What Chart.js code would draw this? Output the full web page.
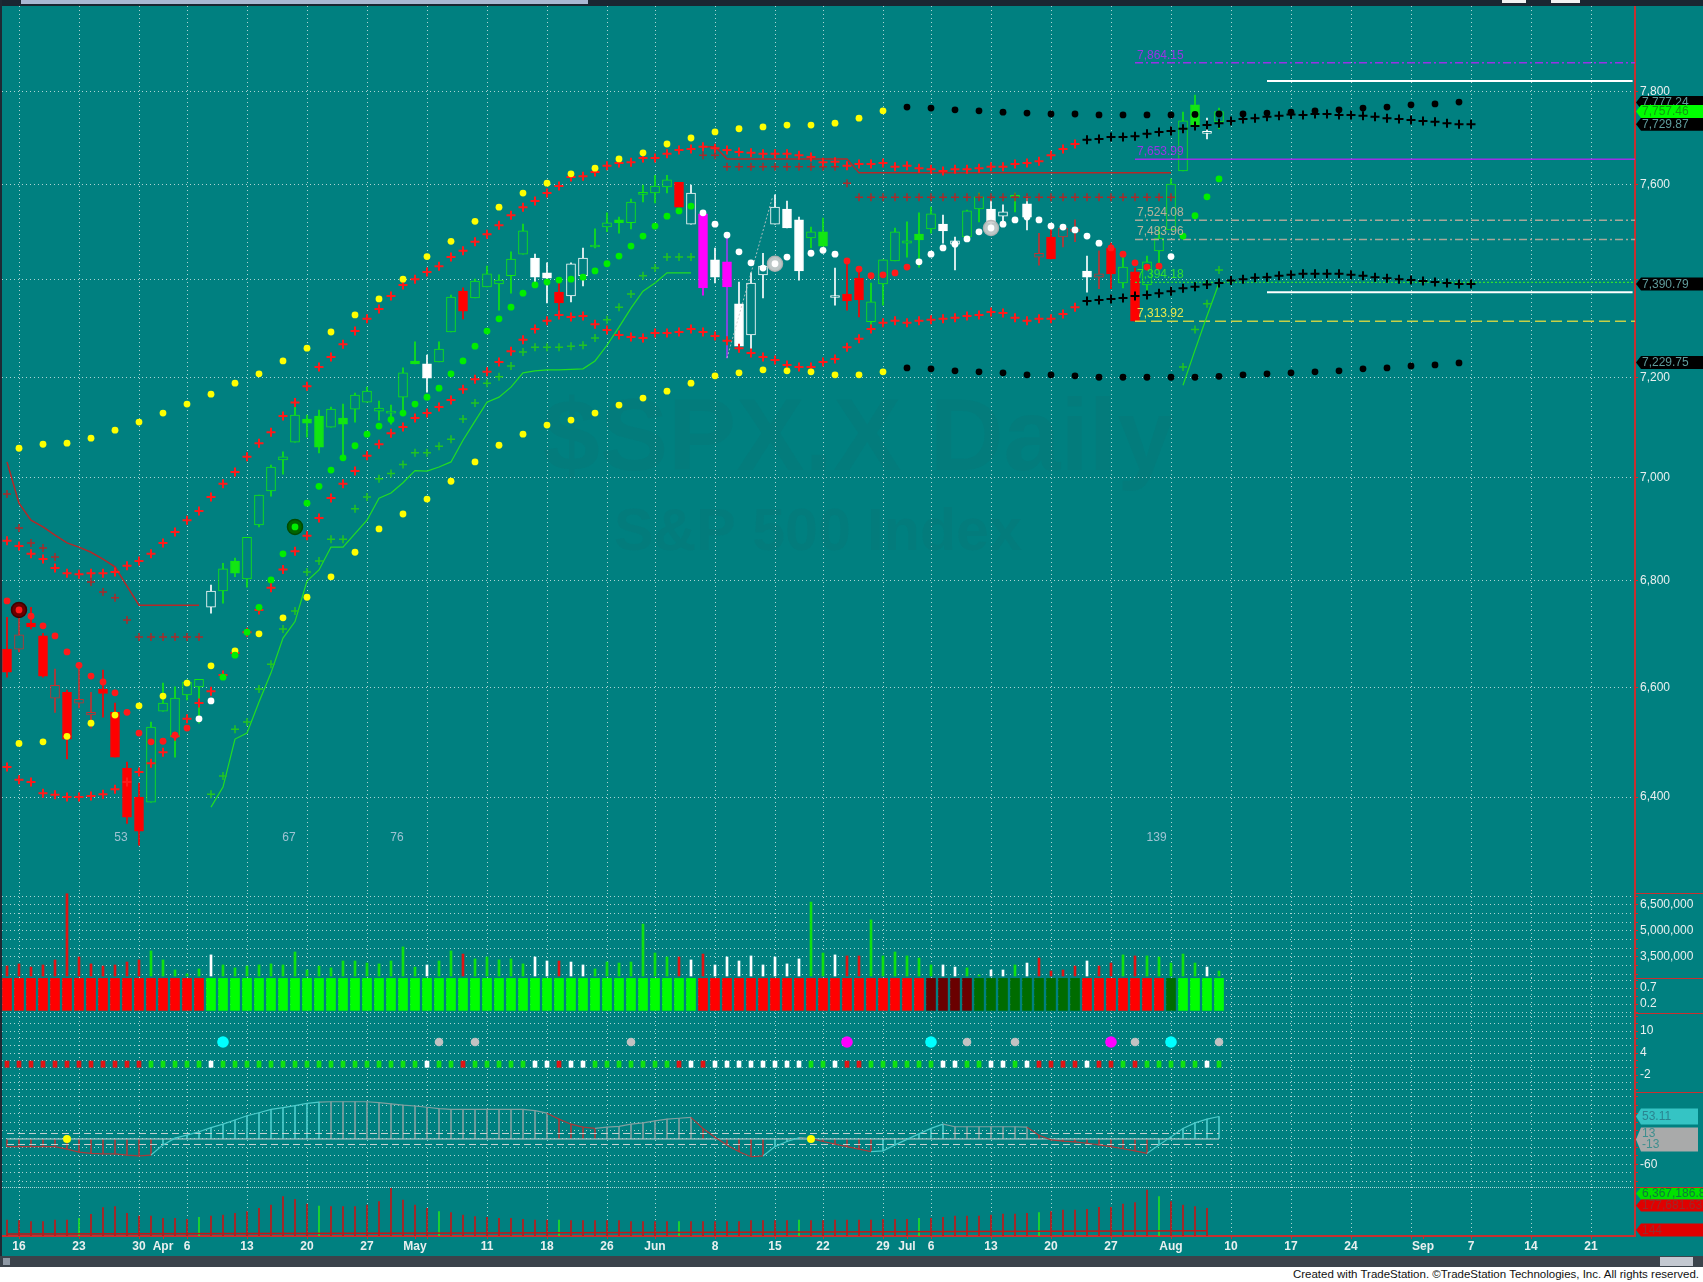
<!DOCTYPE html>
<html>
<head>
<meta charset="utf-8">
<title>$SPX.X Daily</title>
<script src="https://cdn.jsdelivr.net/npm/chart.js@4.4.1/dist/chart.umd.min.js"></script>
<style>
  html, body { margin: 0; padding: 0; background: #ffffff; }
  #page { position: relative; width: 1703px; height: 1282px; background: #008080; overflow: hidden;
          font-family: "Liberation Sans", Arial, sans-serif; }
  .pane { position: absolute; left: 0; }
  .pane canvas { display: block; }
  #topbar { position: absolute; left: 0; top: 0; width: 1703px; height: 6px; background: #1a2631; }
  #topthumb { position: absolute; left: 21px; top: 0; width: 567px; height: 4px; background: #a9b8d2; }
  .chrome { position: absolute; top: 0; height: 3px; background: #f2f2f2; }
  #leftedge { position: absolute; left: 0; top: 0; width: 2px; height: 1258px; background: #1e2a34; }
  .sep { position: absolute; left: 1635px; width: 68px; height: 1px; background: #c83030; }
  #scroll { position: absolute; left: 0; top: 1256px; width: 1703px; height: 11px; background: #3b434b; }
  #scrollL { position: absolute; left: 3px; top: 2px; width: 7px; height: 7px; background: #8e98a4; }
  #scrollR { position: absolute; left: 1660px; top: 1px; width: 33px; height: 9px; background: #c3c8d0; }
  #footer { position: absolute; left: 0; top: 1267px; width: 1703px; height: 15px; background: #ffffff; }
  #footer span { position: absolute; right: 4px; top: 1px; font-size: 11.5px; color: #111; white-space: nowrap; }
</style>
</head>
<body>
<div id="page">
  <div id="panes"></div>
  <div id="topbar"><div id="topthumb"></div></div>
  <div class="chrome" style="left:1502px;width:24px"></div>
  <div class="chrome" style="left:1551px;width:29px"></div>
  <div id="leftedge"></div>
  <div class="sep" style="top:893px"></div>
  <div class="sep" style="top:978px"></div>
  <div class="sep" style="top:1013px"></div>
  <div class="sep" style="top:1092px"></div>
  <div class="sep" style="top:1187px"></div>
  <div id="scroll"><div id="scrollL"></div><div id="scrollR"></div></div>
  <div id="footer"><span>Created with TradeStation. &copy;TradeStation Technologies, Inc. All rights reserved.</span></div>
</div>
<script>
// ---------- values (bar index 0 = Mar 13) ----------
const watermark = ['$SPX.X Daily', 'S&P 500 Index'];

const dateTicks = [[1,'16'],[6,'23'],[11,'30'],[13,'Apr'],[15,'6'],[20,'13'],[25,'20'],[30,'27'],
  [34,'May'],[40,'11'],[45,'18'],[50,'26'],[54,'Jun'],[59,'8'],[64,'15'],[68,'22'],[73,'29'],
  [75,'Jul'],[77,'6'],[82,'13'],[87,'20'],[92,'27'],[97,'Aug'],[102,'10'],[107,'17'],[112,'24'],
  [118,'Sep'],[122,'7'],[127,'14'],[132,'21']];
const gridBars = [1,6,11,15,20,25,30,35,40,45,50,54,59,64,68,73,77,82,87,92,97,102,107,112,117,122,127,132];

const priceTicks = [6400, 6600, 6800, 7000, 7200, 7400, 7600, 7800];
const hiddenPriceLabels = [7400];   // covered by the last-value tag

const openPx = [
  6671,6671,6720,6696,6580,6591,6571,6549,6597,6554,
  6452,6400,6391,6556,6509,6586,6601,6750,6781,6838,
  6804,6908,6974,7035,7070,7116,7122,7100,7118,7136,
  7150,7132,7128,7160,7233,7227,7231,7292,7376,7362,
  7385,7391,7408,7453,7445,7414,7374,7366,7408,7468,
  7510,7525,7519,7579,7582,7595,7605,7516,7538,7441,
  7437,7350,7286,7410,7516,7548,7525,7487,7500,7363,
  7370,7403,7313,7391,7439,7476,7495,7506,7516,7474,
  7489,7548,7548,7533,7573,7559,7447,7489,7489,7501,
  7418,7405,7466,7393,7416,7389,7460,7504,7629,7772,
  7710,7735];
const highPx = [
  6731,6750,6750,6701,6634,6595,6645,6591,6632,6571,
  6463,6425,6536,6608,6601,6614,6615,6792,6834,6844,
  6884,6966,7025,7051,7144,7124,7134,7140,7146,7168,
  7180,7152,7144,7219,7272,7245,7272,7368,7383,7401,
  7428,7410,7458,7516,7453,7435,7395,7435,7466,7506,
  7540,7531,7569,7599,7620,7620,7605,7599,7542,7466,
  7487,7395,7414,7455,7578,7565,7531,7510,7529,7424,
  7441,7420,7393,7441,7508,7521,7540,7552,7535,7489,
  7546,7582,7567,7557,7582,7574,7497,7510,7514,7525,
  7449,7460,7476,7449,7424,7449,7510,7612,7756,7793,
  7743,7765];
const lowPx = [
  6619,6666,6709,6619,6554,6469,6562,6525,6545,6472,
  6353,6314,6391,6556,6472,6577,6534,6739,6758,6808,
  6788,6904,6964,7007,7070,7080,7049,7100,7039,7110,
  7150,7114,7106,7130,7227,7170,7231,7292,7319,7362,
  7385,7337,7372,7453,7395,7352,7337,7354,7387,7466,
  7500,7497,7506,7563,7561,7582,7552,7516,7368,7393,
  7239,7255,7255,7362,7516,7508,7399,7466,7470,7347,
  7337,7323,7296,7347,7439,7447,7426,7497,7476,7420,
  7479,7521,7510,7519,7542,7504,7430,7443,7468,7479,
  7374,7381,7381,7383,7314,7368,7426,7504,7629,7720,
  7698,7720];
const closePx = [
  6628,6698,6713,6621,6604,6505,6578,6554,6589,6472,
  6364,6339,6527,6571,6580,6610,6615,6781,6823,6815,
  6884,6966,7021,7041,7124,7108,7060,7136,7106,7164,
  7172,7138,7132,7209,7227,7198,7257,7364,7335,7397,
  7412,7399,7443,7502,7405,7403,7352,7433,7445,7472,
  7519,7519,7563,7580,7597,7610,7552,7582,7383,7405,
  7385,7263,7393,7428,7552,7508,7418,7500,7470,7364,
  7356,7358,7354,7441,7500,7481,7483,7538,7502,7481,
  7544,7574,7519,7542,7574,7531,7455,7443,7508,7502,
  7405,7412,7412,7426,7314,7437,7487,7601,7737,7724,
  7711,7757];
// colour + hollow/filled of each candle (g green, r red, w white, m/p magenta)
const candleStyle = [
  'rf','rh','rf','rf','rh','rf','rh','rh','rf','rf',
  'rf','rf','gh','gh','gh','gh','gh','wh','gh','gf',
  'gh','gh','gh','gh','gh','gf','gf','gh','gf','gh',
  'gh','gh','gh','gh','gf','wf','gh','gh','rf','gh',
  'gh','gh','gh','gh','wf','wf','rf','wh','wh','gh',
  'gh','gf','gh','gh','gh','gh','rf','wh','mf','wf',
  'pf','wf','wh','wh','wh','wf','wf','gh','gf','wh',
  'rf','rf','gh','gh','gh','gh','gf','gh','wf','wh',
  'gh','gh','wf','wh','gh','wf','rh','rf','rh','rh',
  'wf','rh','rf','gh','rf','gh','gh','gh','gh','gf',
  'wh','gh'];

// outer band dots, every second bar starting at bar 1 (yellow, black from bar 75)
const upperDots = [
  7058,7066,7068,7078,7094,7110,7128,7146,7166,7188,
  7207,7233,7259,7292,7327,7360,7401,7448,7480,7522,
  7552,7582,7603,7623,7635,7655,7668,7687,7700,7713,
  7720,7724,7728,7728,7732,7743,7759,7767,7765,7761,
  7759,7756,7754,7752,7752,7750,7750,7750,7750,7751,
  7752,7752,7754,7756,7759,7761,7765,7767,7772,7774,
  7778];
const lowerDots = [
  6497,6500,6510,6534,6549,6566,6584,6608,6640,6668,
  6700,6730,6769,6808,6855,6900,6929,6958,6993,7031,
  7064,7086,7104,7114,7128,7144,7158,7172,7188,7203,
  7209,7215,7213,7211,7205,7205,7211,7219,7217,7213,
  7211,7209,7205,7205,7203,7200,7200,7200,7200,7200,
  7202,7205,7207,7209,7211,7213,7217,7219,7223,7225,
  7229];
// inner band crosses from bar 0 (red, black projection from bar 90)
const upperCross = [
  6877,6867,6852,6842,6825,6815,6813,6815,6815,6817,
  6829,6838,6852,6873,6894,6917,6935,6962,6988,7011,
  7041,7068,7090,7122,7149,7182,7221,7241,7267,7294,
  7319,7339,7366,7389,7401,7416,7428,7447,7460,7479,
  7495,7514,7535,7552,7565,7582,7597,7616,7618,7627,
  7640,7646,7648,7657,7657,7666,7674,7676,7681,7678,
  7674,7670,7668,7666,7666,7666,7663,7659,7648,7649,
  7640,7644,7644,7646,7638,7640,7635,7633,7629,7633,
  7633,7635,7638,7638,7644,7646,7650,7663,7676,7687,
  7696,7698,7702,7702,7704,7709,7713,7715,7720,7726,
  7728,7732,7737,7741,7743,7746,7748,7751,7750,7752,
  7752,7750,7750,7748,7746,7743,7741,7739,7737,7735,
  7732,7730,7730];
const lowerCross = [
  6454,6431,6427,6407,6404,6400,6400,6402,6405,6414,
  6427,6445,6461,6481,6510,6542,6571,6593,6623,6664,
  6703,6745,6787,6822,6857,6887,6921,6960,6988,7013,
  7043,7066,7088,7100,7118,7128,7140,7154,7176,7196,
  7211,7231,7253,7276,7298,7315,7327,7323,7325,7308,
  7296,7286,7282,7280,7290,7290,7292,7298,7292,7284,
  7274,7259,7249,7241,7235,7225,7221,7221,7231,7237,
  7261,7278,7298,7311,7315,7311,7315,7317,7319,7321,
  7325,7327,7333,7331,7321,7315,7319,7319,7329,7343,
  7356,7358,7360,7362,7366,7368,7372,7376,7382,7385,
  7390,7393,7398,7401,7404,7405,7408,7410,7412,7412,
  7412,7412,7410,7408,7405,7403,7401,7399,7397,7395,
  7393,7391,7391];
const dimCrossEarly = [6968,6902,6873,6863,6846,null,null,6798,6779,6768,6726,6694,6694,6694,6694,6694,6694]; // bars 0-16
const dimCrossLate = [7663,7663,
  7638,7638,7638,7638,7638,7638,7638,7638,7638,7638, 7603,
  7573,7573,7573,7573,7573,7573,7573,7573,7573,
  7573,7573,7573,7573,7573,7573,7573,7573,7573,
  7573,7573,7573,7573,7573,7573,7573,7573,7573];                                                       // bars 58-97
const redLineEarly = [7031,6950,6917,6904,6888,6873,6865,6855,6842,6827,6790,6754,6754,6754,6754,6754,6754]; // bars 0-16
const redLineLate = [7681,7681,
  7655,7655,7655,7655,7655,7655,7655,7655,7655,7655,7655,
  7625,7625,7625,7625,7625,7625,7625,7625,7625,
  7625,7625,7625,7625,7625,7625,7625,7625,7625,
  7625,7625,7625,7625,7625,7625,7625,7625,7625];                                                       // bars 58-97
// trailing stop dots, bars 0-101
const stopDots = [
  6762,6745,6733,6715,6696,6666,6641,6621,6610,6590,
  6554,6516,6500,6501,6512,6525,6542,6575,6619,6660,
  6703,6750,6802,6852,6904,6950,6983,7015,7039,7063,
  7086,7102,7115,7128,7146,7160,7178,7207,7233,7263,
  7294,7319,7343,7372,7389,7395,7399,7401,7405,7418,
  7433,7449,7470,7491,7512,7533,7544,7554,7540,7516,
  7493,7458,7435,7424,7433,7447,7451,7455,7461,7453,
  7439,7422,7408,7410,7414,7426,7437,7453,7466,7474,
  7485,7500,7508,7516,7525,7531,7525,7512,7510,7504,
  7491,7476,7466,7453,7435,7426,7428,7448,7491,7534,
  7574,7612];
const stopTone = ['rrrrrrrrrrrrrrrr','ww','gggggggggggggggggggggggggggggggggggggggg',
  'wwwwwwwwwwww','rrrrrr','wwwwwwwwwwwwwwww','rrrrr','w','gggg'].join('').split('');
// green trailing crosses / line, bars 17-57 and 98-101
const greenCross = [
  6405,6438,6523,6536,6597,6643,6709,6743,6817,6838,
  6880,6880,6939,6962,6998,7008,7026,7049,7049,7062,
  7076,7116,7148,7188,7201,7223,7251,7261,7261,7261,
  7263,7265,7280,7317,7343,7370,7408,7424,7447,7447,
  7447];
const greenCrossEnd = [7221,7297,7350,7420];
const greenLine = [
  6382,6418,6505,6516,6573,6627,6692,6723,6800,6821,
  6865,6865,6891,6917,6960,6970,6990,7014,7013,7021,
  7031,7074,7112,7150,7160,7180,7209,7213,7215,7215,
  7216,7217,7233,7265,7302,7341,7376,7393,7414,7414,
  7414];
const greenLineEnd = [7184,7255,7325,7393];
const levelValues = [7864.15, 7653.99, 7524.08, 7483.96, 7394.18, 7313.92];
const whiteLevels = [7824, 7374];
const markers = [[1, 6745, 'red'], [24, 6904, 'green'], [64, 7433, 'gray'], [82, 7508, 'gray']];
const trendStub = [[60, 7239], [63.8, 7574]];
const swingCounts = [[9.5, '53'], [23.5, '67'], [32.5, '76'], [95.8, '139']];
const SWING_ROW = 6327;
const priceTags = [[7777.24, 'dark'], [7729.87, 'dark'], [7757.46, 'green'], [7390.79, 'dark'], [7229.75, 'dark']];

// volume, bars 0-101
const volume = [
  2980000,3100000,2920000,3040000,3330000,7150000,3500000,3100000,2980000,3040000,
  3210000,3330000,3850000,3330000,2750000,2520000,2810000,3620000,3040000,2870000,
  2980000,3040000,3100000,3040000,3790000,2750000,2980000,2870000,3270000,3270000,
  3150000,3100000,3270000,4080000,2920000,3040000,3270000,3850000,3670000,3390000,
  3500000,3330000,3390000,3100000,3500000,3270000,3270000,3210000,3040000,2810000,
  3210000,3150000,3210000,5400000,3730000,3500000,3500000,3330000,3670000,3040000,
  3500000,3270000,3560000,3040000,3500000,3100000,3390000,6670000,3730000,3620000,
  3560000,3560000,5640000,3560000,3790000,3560000,3440000,3040000,3040000,2920000,
  2870000,2460000,2750000,2750000,3040000,3150000,3440000,2690000,2750000,2980000,
  3270000,2980000,3150000,3620000,3560000,3560000,3500000,3150000,3670000,3150000,
  2920000,2690000];
const barTone = ['rrrrrrrrrrrr','ggggg','w','ggggggggggggggggg','w','gg','r','ggggg','ww','r','ww',
  'ggggggg','r','w','r','wwwwwwww','gg','w','rr','gggggg','ww','gg','ww','g','w','rrrr','w','rr',
  'g','r','ggggg','w','g'].join('').split('');
const blockTone = ['RRRRRRRRRRRRRRRRR','LLLLLLLLLL','LLLLLLLLLL','LLLLLLLLLL','LLLLLLLLLL','L',
  'RRRRRRRRRR','RRRRRRRRR','DDDD','GGGGGGGGG','RRRRRRR','G','LLLL'].join('').split('');
const signalDots = [[18,'c'],[36,'s'],[39,'s'],[52,'s'],[70,'m'],[77,'c'],[80,'s'],[84,'s'],[92,'m'],[94,'s'],[97,'c'],[101,'s']];
const SIGNAL_ROW = 7;

const osc = [
  -18,-18,-18,-18,-18,-24,-31,-34,-35,-35,
  -38,-40,-38,-14,2,9,17,27,35,45,
  55,62,70,74,79,84,87,88,88,88,
  88,86,83,80,78,75,72,70,70,70,
  70,70,70,70,67,61,47,35,28,25,
  28,30,35,38,43,47,49,51,25,4,
  -14,-30,-42,-40,-18,-6,3,1,-6,-12,
  -18,-24,-30,-28,-14,-1,12,25,35,29,
  29,29,29,29,29,28,9,-2,-5,-7,
  -10,-14,-18,-23,-28,-34,-14,5,25,38,
  47,53.11];
const oscTone = ['rrrrrrrrrrrrr','cccccccccccccc','ggggggggggggggggggg','rrrr','gggggggg','rrrrrr',
  'ccc','g','rrrrr','cccccc','ggggggg','rrrrrrrrrr','cccccc'].join('').split('');
const oscBands = [0, 13, -13];
const oscMarks = [5, 67];

const spikes = [
  2400000,2300000,2150000,2150000,2400000,2400000,2650000,3250000,4250000,4400000,
  3400000,3000000,3000000,2650000,2650000,2500000,2800000,3000000,3150000,3400000,
  3650000,4150000,4650000,5900000,5500000,4800000,4500000,4400000,4400000,4400000,
  4650000,5150000,7150000,5400000,4650000,4150000,3650000,3500000,3150000,2900000,
  2800000,2650000,2650000,2500000,2400000,2400000,2400000,2300000,2300000,2300000,
  2300000,2300000,2150000,2150000,2150000,2150000,2150000,2150000,2150000,2150000,
  2150000,2150000,2300000,2300000,2300000,2300000,2400000,2300000,2300000,2400000,
  2400000,2400000,2400000,2500000,2500000,2500000,2650000,2650000,2800000,3000000,
  3000000,3000000,3150000,3300000,3300000,3400000,3500000,3650000,3900000,3900000,
  4000000,4300000,4300000,4800000,5000000,6900000,5900000,5150000,4650000,4400000,
  4150000,null];
const greenSpikes = [6, 16, 26, 36, 46, 56, 66, 76, 86, 96];
const spikeAvg = [[0, 300000], [40, 450000], [100, 800000]];
const spikeTags = [6367186.83, 177681.63, 144];

// ---------- styling ----------
const FONT = '"Liberation Sans", Arial, sans-serif';
const BG = '#008080';
const GRID = 'rgba(214,232,232,0.8)';
const AXIS_RED = '#c83030';
const LABEL = '#e9efef';
const X_MIN = -5 / 12, X_MAX = 1628 / 12;
const LEVEL_START = 94;
const levelStyles = [
  { line: '#9a32e6', text: '#9a32e6', dash: [8, 3, 2, 3], width: 1.5 },
  { line: '#9a32e6', text: '#9a32e6', dash: [], width: 1.5 },
  { line: '#a9a79a', text: '#b9b199', dash: [8, 3, 2, 3], width: 1.5 },
  { line: '#a9a79a', text: '#b9b199', dash: [8, 3, 2, 3], width: 1.5 },
  { line: '#2ee02e', text: '#2ee02e', dash: [2, 2], width: 1.2 },
  { line: '#c6d046', text: '#e8e84a', dash: [11, 5], width: 1.5 }
];
const candleTone = { g: '#12e612', r: '#ff0000', w: '#ffffff', m: '#ff00ff', p: '#ff00ff' };
const TONE = { r: '#e01414', g: '#10e010', w: '#ffffff' };
const BLOCK = { R: '#ff0000', L: '#00ff00', D: '#6a0000', G: '#006c00' };
const STOP = { r: '#ff1a1a', w: '#ffffff', g: '#00ee00' };
const OSC = { c: '#4ccaca', r: '#a83a3a', g: '#7fa0a0' };
const SIG = { c: '#00ffff', s: '#c2c2c2', m: '#ff00ff' };
const MARK = {
  red: { fill: '#6a0000', edge: '#400000' },
  green: { fill: '#006400', edge: '#004a00' },
  gray: { fill: 'rgba(206,206,206,0.92)', edge: 'rgba(180,180,180,0.9)' }
};

const fmt0 = v => v.toLocaleString('en-US');
const fmt2 = v => v.toLocaleString('en-US', { minimumFractionDigits: 2, maximumFractionDigits: 2 });
const bars = openPx.map((_, i) => i);

function candleColor(i) {
  const s = candleStyle[i];
  return s === 'rh' ? '#c43030' : candleTone[s[0]];
}
function wickColor(i) { return candleStyle[i][0] === 'p' ? '#9b3cf0' : candleColor(i); }
function pts(values, start, step) {
  const out = [];
  values.forEach((v, k) => { if (v != null) out.push({ x: start + k * (step || 1), y: v }); });
  return out;
}
function dotSet(data, colors, extra) {
  return Object.assign({
    type: 'line', data, showLine: false, pointStyle: 'circle', pointRadius: 3.4, pointHoverRadius: 0,
    pointBorderWidth: 0, pointBackgroundColor: colors, pointBorderColor: colors, order: 3
  }, extra || {});
}
function crossSet(data, colors, extra) {
  return Object.assign({
    type: 'line', data, showLine: false, pointStyle: 'cross', pointRadius: 4.5, pointHoverRadius: 0,
    pointBorderWidth: 2, pointBorderColor: colors, pointBackgroundColor: colors, order: 4
  }, extra || {});
}
function lineSet(data, color, width, dash, order) {
  return { type: 'line', data, borderColor: color, borderWidth: width, borderDash: dash || [],
           pointRadius: 0, pointHoverRadius: 0, fill: false, tension: 0, order: order || 6 };
}

function xAxis(withDates) {
  const labelOf = new Map(dateTicks);
  const all = [...new Set([...gridBars, ...dateTicks.map(d => d[0])])].sort((a, b) => a - b);
  return {
    type: 'linear', min: X_MIN, max: X_MAX, offset: false,
    afterBuildTicks: s => { s.ticks = all.map(v => ({ value: v })); },
    afterFit: s => { s.height = withDates ? 20 : 0; s.paddingLeft = 0; s.paddingRight = 0; },
    grid: { offset: false, lineWidth: 1, drawTicks: withDates, tickLength: 3, tickColor: AXIS_RED,
            color: c => (c.tick && gridBars.includes(c.tick.value)) ? GRID : 'rgba(0,0,0,0)' },
    border: { display: withDates, color: AXIS_RED, width: 2, dash: [1, 3] },
    ticks: { display: withDates, autoSkip: false, maxRotation: 0, minRotation: 0, padding: 0, color: LABEL,
             font: { family: FONT, size: 12, weight: 'bold' }, callback: v => labelOf.get(v) || '' }
  };
}
function yAxis(extra) {
  const base = {
    position: 'right',
    afterFit: s => { s.width = 68; s.paddingTop = 0; s.paddingBottom = 0; },
    grid: { color: GRID, lineWidth: 1, drawTicks: true, tickLength: 3, tickColor: AXIS_RED },
    border: { display: true, color: AXIS_RED, width: 2, dash: [1, 3] },
    ticks: { autoSkip: false, color: LABEL, padding: 2, font: { family: FONT, size: 12 } }
  };
  return Object.assign(base, extra, { ticks: Object.assign(base.ticks, extra.ticks || {}) });
}
function fixedTicks(list) { return s => { s.ticks = list.map(v => ({ value: v })); }; }
function options(yScale, withDates) {
  return {
    responsive: false, animation: false, devicePixelRatio: 1, events: [],
    layout: { padding: { left: 2, right: 0, top: 0, bottom: 0 }, autoPadding: false },
    datasets: { bar: { grouped: false } },
    plugins: { legend: { display: false }, tooltip: { enabled: false } },
    scales: { x: xAxis(withDates), y: yScale }
  };
}
function pane(top, height) {
  const div = document.createElement('div');
  div.className = 'pane';
  div.style.top = top + 'px';
  const cv = document.createElement('canvas');
  cv.width = 1703; cv.height = height;
  cv.style.width = '1703px'; cv.style.height = height + 'px';
  div.appendChild(cv);
  document.getElementById('panes').appendChild(div);
  return cv;
}
function tag(ctx, yc, text, bg, fg, h, right) {
  const x0 = 1636, x1 = right || 1703;
  ctx.save();
  ctx.fillStyle = bg;
  ctx.beginPath();
  ctx.moveTo(x0, yc);
  ctx.lineTo(x0 + 5, yc - h / 2);
  ctx.lineTo(x1, yc - h / 2);
  ctx.lineTo(x1, yc + h / 2);
  ctx.lineTo(x0 + 5, yc + h / 2);
  ctx.closePath();
  ctx.fill();
  ctx.fillStyle = fg;
  ctx.font = '12px ' + FONT;
  ctx.textBaseline = 'middle';
  ctx.textAlign = 'left';
  ctx.fillText(text, x0 + 6, yc + 0.5);
  ctx.restore();
}
function fitText(ctx, text, x0, x1, baseline) {
  ctx.font = 'bold 100px ' + FONT;
  const size = 100 * (x1 - x0) / ctx.measureText(text).width;
  ctx.font = 'bold ' + size.toFixed(1) + 'px ' + FONT;
  ctx.fillText(text, x0, baseline);
}

// ---------- price panel ----------
const priceOverlay = {
  id: 'priceOverlay',
  beforeDatasetsDraw(chart) {
    const ctx = chart.ctx;
    ctx.save();
    ctx.fillStyle = 'rgba(45,75,85,0.075)';
    ctx.textAlign = 'left';
    fitText(ctx, watermark[0], 543, 1174, 464);
    fitText(ctx, watermark[1], 614, 1022, 544);
    ctx.restore();
  },
  afterDatasetsDraw(chart) {
    const { ctx, scales: { x, y } } = chart;
    ctx.save();
    ctx.font = '12px ' + FONT;
    ctx.textAlign = 'left';
    levelValues.forEach((v, k) => {
      ctx.fillStyle = levelStyles[k].text;
      ctx.fillText(fmt2(v), x.getPixelForValue(LEVEL_START) + 2, y.getPixelForValue(v) - 4);
    });
    ctx.fillStyle = '#9fc3d3';
    ctx.textAlign = 'center';
    ctx.textBaseline = 'middle';
    swingCounts.forEach(([b, t]) => ctx.fillText(t, x.getPixelForValue(b), y.getPixelForValue(SWING_ROW)));
    ctx.restore();
  },
  afterDraw(chart) {
    const { ctx, scales: { y } } = chart;
    priceTags.forEach(([v, kind]) => {
      if (kind === 'green') tag(ctx, y.getPixelForValue(v), fmt2(v), '#00ff00', '#109a10', 13);
      else tag(ctx, y.getPixelForValue(v), fmt2(v), '#000000', '#5f9c9c', 13);
    });
  }
};

const priceSets = [
  { type: 'bar', data: bars.map(i => ({ x: i, y: [lowPx[i], highPx[i]] })),
    backgroundColor: bars.map(wickColor), barThickness: 1, order: 20 },
  { type: 'bar', data: bars.map(i => ({ x: i, y: [Math.min(openPx[i], closePx[i]), Math.max(openPx[i], closePx[i])] })),
    backgroundColor: bars.map(i => candleStyle[i][1] === 'h' ? BG : candleColor(i)),
    borderColor: bars.map(candleColor), borderWidth: 1, borderSkipped: false, barThickness: 9,
    minBarLength: 2, order: 19 }
];
levelValues.forEach((v, k) => {
  const st = levelStyles[k];
  priceSets.push(lineSet([{ x: LEVEL_START, y: v }, { x: X_MAX, y: v }], st.line, st.width, st.dash, 12));
});
whiteLevels.forEach(v => priceSets.push(lineSet([{ x: 105, y: v }, { x: X_MAX - 0.2, y: v }], '#ffffff', 2, [], 12)));
priceSets.push(lineSet(trendStub.map(([x, y]) => ({ x, y })), 'rgba(200,200,200,0.85)', 1, [2, 2], 11));
priceSets.push(lineSet(pts(redLineEarly, 0), '#b42828', 1.5, [], 7));
priceSets.push(lineSet(pts(redLineLate, 58), '#b42828', 1.5, [], 7));
priceSets.push(lineSet(pts(greenLine, 17), '#22dd22', 1.2, [], 7));
priceSets.push(lineSet(pts(greenLineEnd, 98), '#22dd22', 1.2, [], 7));
priceSets.push(crossSet(pts(dimCrossEarly, 0), '#a82a2a', { pointRadius: 4, pointBorderWidth: 1.5, order: 5 }));
priceSets.push(crossSet(pts(dimCrossLate, 58), '#a82a2a', { pointRadius: 4, pointBorderWidth: 1.5, order: 5 }));
priceSets.push(crossSet(pts(greenCross, 17), '#22c422', { pointRadius: 4, pointBorderWidth: 1.5, order: 5 }));
priceSets.push(crossSet(pts(greenCrossEnd, 98), '#22c422', { pointRadius: 4, pointBorderWidth: 1.5, order: 5 }));
const upC = pts(upperCross, 0), loC = pts(lowerCross, 0);
priceSets.push(crossSet(upC, upC.map(p => p.x < 90 ? '#ff1a1a' : '#000000')));
priceSets.push(crossSet(loC, loC.map(p => p.x < 90 ? '#ff1a1a' : '#000000')));
const upD = pts(upperDots, 1, 2), loD = pts(lowerDots, 1, 2);
priceSets.push(dotSet(upD, upD.map(p => p.x <= 73 ? '#ffff00' : '#000000')));
priceSets.push(dotSet(loD, loD.map(p => p.x <= 73 ? '#ffff00' : '#000000')));
priceSets.push(dotSet(markers.map(([x, y]) => ({ x, y })), markers.map(m => MARK[m[2]].fill),
  { pointRadius: 7.5, pointBorderWidth: 1.5, pointBorderColor: markers.map(m => MARK[m[2]].edge), order: 8 }));
priceSets.push(dotSet(pts(stopDots, 0), stopTone.map(t => STOP[t]), { order: 2 }));

new Chart(pane(6, 887), {
  type: 'bar',
  data: { datasets: priceSets },
  options: options(yAxis({ type: 'logarithmic', min: 6230, max: 7990.5, afterBuildTicks: fixedTicks(priceTicks),
                           ticks: { callback: v => hiddenPriceLabels.includes(v) ? '' : fmt0(v) } }), false),
  plugins: [priceOverlay]
});

// ---------- volume panel ----------
const VOL_FLOOR = 2404000;
new Chart(pane(893, 85), {
  type: 'bar',
  data: { datasets: [{ data: bars.map(i => ({ x: i, y: [VOL_FLOOR, volume[i]] })),
                       backgroundColor: barTone.map(t => TONE[t]), barThickness: 2 }] },
  options: options(yAxis({ type: 'linear', min: 2288000, max: 7192000,
    afterBuildTicks: fixedTicks([2500000,3000000,3500000,4000000,4500000,5000000,5500000,6000000,6500000,7000000]),
    ticks: { callback: v => [3500000, 5000000, 6500000].includes(v) ? fmt0(v) : '' } }), false)
});

// ---------- trend blocks ----------
new Chart(pane(978, 35), {
  type: 'bar',
  data: { datasets: [{ data: bars.map(i => ({ x: i, y: 1 })), backgroundColor: blockTone.map(t => BLOCK[t]), barThickness: 9 }] },
  options: options(yAxis({ type: 'linear', min: -0.081, max: 1.0125,
    afterBuildTicks: fixedTicks([-0.05, 0.2, 0.45, 0.7, 0.95]),
    ticks: { callback: v => [0.2, 0.7].includes(v) ? String(v) : '' } }), false)
});

// ---------- signal dots + bar ticks ----------
new Chart(pane(1013, 79), {
  type: 'bar',
  data: { datasets: [
    { data: bars.map(i => ({ x: i, y: [0.1, 1.8] })), backgroundColor: barTone.map(t => TONE[t]), barThickness: 4, order: 5 },
    dotSet(signalDots.map(([b]) => ({ x: b, y: SIGNAL_ROW })), signalDots.map(s => SIG[s[1]]),
      { pointRadius: signalDots.map(s => s[1] === 's' ? 4.3 : 5.8), order: 1 })
  ] },
  options: options(yAxis({ type: 'linear', min: -6.636, max: 14.909,
    afterBuildTicks: fixedTicks([-6, -4, -2, 0, 2, 4, 6, 8, 10, 12, 14]),
    ticks: { callback: v => [10, 4, -2].includes(v) ? String(v) : '' } }), false)
});

// ---------- oscillator ----------
const oscOverlay = {
  id: 'oscOverlay',
  afterDraw(chart) {
    const { ctx, scales: { y } } = chart;
    const last = osc[osc.length - 1];
    tag(ctx, y.getPixelForValue(last), fmt2(last), '#35c4c4', '#2a8490', 16, 1698);
    const top = y.getPixelForValue(oscBands[1]) - 6, bot = y.getPixelForValue(oscBands[2]) + 7;
    ctx.save();
    ctx.fillStyle = '#a9aaaa';
    ctx.beginPath();
    ctx.moveTo(1636, (top + bot) / 2);
    ctx.lineTo(1641, top); ctx.lineTo(1698, top); ctx.lineTo(1698, bot); ctx.lineTo(1641, bot);
    ctx.closePath(); ctx.fill();
    ctx.fillStyle = '#3f8f8f';
    ctx.font = '12px ' + FONT;
    ctx.textBaseline = 'middle';
    ctx.fillText(String(oscBands[1]), 1642, y.getPixelForValue(oscBands[1]) + 0.5);
    ctx.fillText(String(oscBands[2]), 1642, y.getPixelForValue(oscBands[2]) + 0.5);
    ctx.restore();
  }
};
const oscSets = [
  { type: 'bar', data: bars.map(i => ({ x: i, y: osc[i] })), backgroundColor: oscTone.map(t => OSC[t]), barThickness: 1, order: 10 },
  { type: 'line', data: pts(osc, 0), borderWidth: 1.2, pointRadius: 0, tension: 0, order: 4,
    borderColor: OSC.g, segment: { borderColor: c => OSC[oscTone[c.p1DataIndex]] } },
  lineSet([{ x: 0, y: oscBands[0] }, { x: 101, y: oscBands[0] }], '#c6d2d2', 1, [], 9),
  lineSet([{ x: 0, y: oscBands[1] }, { x: 101, y: oscBands[1] }], '#c6d2d2', 1, [7, 4], 9),
  lineSet([{ x: 0, y: oscBands[2] }, { x: 101, y: oscBands[2] }], '#c6d2d2', 1, [7, 4], 9),
  dotSet(oscMarks.map(b => ({ x: b, y: 0 })), '#ffff00', { pointRadius: 4, order: 1 })
];
new Chart(pane(1092, 95), {
  type: 'bar',
  data: { datasets: oscSets },
  options: options(yAxis({ type: 'linear', min: -113.5, max: 111.1,
    afterBuildTicks: fixedTicks([-100, -80, -60, -40, -20, 0, 20, 40, 60, 80, 100]),
    ticks: { callback: v => v === -60 ? '-60' : '' } }), false),
  plugins: [oscOverlay]
});

// ---------- bottom spikes + dates ----------
const spikeOverlay = {
  id: 'spikeOverlay',
  afterDraw(chart) {
    const { ctx, scales: { y }, chartArea } = chart;
    const g = y.getPixelForValue(spikeTags[0]);
    tag(ctx, g, fmt2(spikeTags[0]), '#00e000', '#0d7a3a', 12);
    tag(ctx, g + 12, fmt2(spikeTags[1]), '#e00000', '#9c2a2a', 12);
    tag(ctx, chartArea.bottom - 6, String(spikeTags[2]), '#e00000', '#9c2a2a', 13);
  }
};
new Chart(pane(1187, 69), {
  type: 'bar',
  data: { datasets: [
    { data: pts(spikes, 0), backgroundColor: bars.map(i => greenSpikes.includes(i) ? '#22e022' : '#c01818'), barThickness: 1, order: 5 },
    lineSet(spikeAvg.map(([x, y]) => ({ x, y })), '#c01818', 1.5, [], 2)
  ] },
  options: options(yAxis({ type: 'linear', min: 0, max: 7350000,
    afterBuildTicks: fixedTicks([7300000]),
    grid: { color: GRID, lineWidth: 1, drawTicks: true, tickLength: 3, tickColor: AXIS_RED },
    border: { display: true, color: AXIS_RED, width: 2, dash: [1, 1] },
    ticks: { callback: () => '' } }), true),
  plugins: [spikeOverlay]
});
</script>
</body>
</html>
